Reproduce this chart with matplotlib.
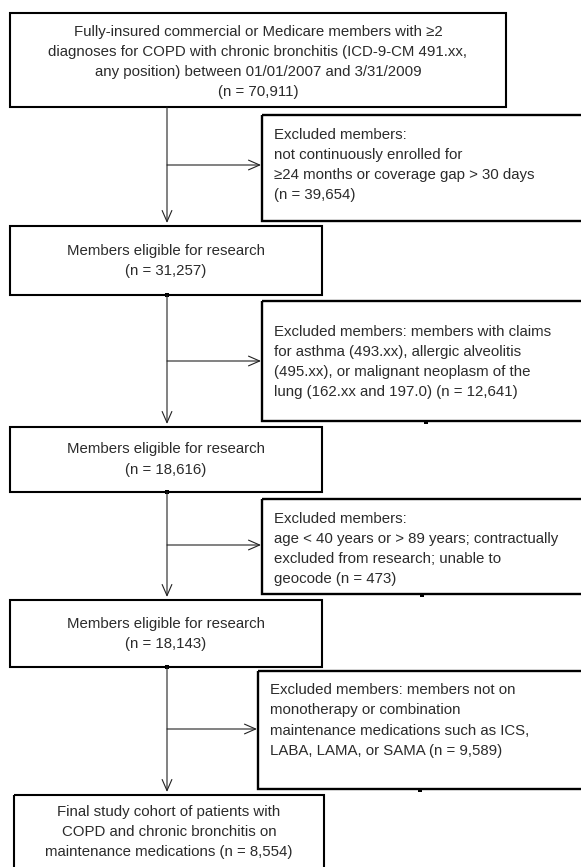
import matplotlib.pyplot as plt
from matplotlib.patches import Rectangle

plt.rcParams['font.family'] = ['Liberation Sans', 'DejaVu Sans']

# flowchart content
main_text = [
    "Fully-insured commercial or Medicare members with \u22652\n"
    "diagnoses for COPD with chronic bronchitis (ICD-9-CM 491.xx,\n"
    "any position) between 01/01/2007 and 3/31/2009",
    "Members eligible for research",
    "Members eligible for research",
    "Members eligible for research",
    "Final study cohort of patients with\n"
    "COPD and chronic bronchitis on\n"
    "maintenance medications",
]
main_n = [70911, 31257, 18616, 18143, 8554]

excl_text = [
    "Excluded members:\nnot continuously enrolled for\n"
    "\u226524 months or coverage gap > 30 days\n",
    "Excluded members: members with claims\nfor asthma (493.xx), allergic alveolitis\n"
    "(495.xx), or malignant neoplasm of the\nlung (162.xx and 197.0) ",
    "Excluded members:\nage < 40 years or > 89 years; contractually\n"
    "excluded from research; unable to\ngeocode ",
    "Excluded members: members not on\nmonotherapy or combination\n"
    "maintenance medications such as ICS,\nLABA, LAMA, or SAMA ",
]
excl_n = [39654, 12641, 473, 9589]

# layout in pixels (x0, y0, x1, y1), y downwards
main_boxes = [(10, 13, 506, 107), (10, 226, 322, 295), (10, 427, 322, 492),
              (10, 600, 322, 667), (14, 795, 324, 900)]
main_cy = [62, 261, 459.5, 634, 832]
excl_boxes = [(262, 115, 640, 221), (262, 301, 640, 421), (262, 499, 640, 594),
              (258, 671, 640, 789)]
excl_cy = [165, 362, 549, 720.5]
arrow_y = [165, 361, 545, 729]
stem_x = 167

fig = plt.figure(figsize=(5.81, 8.67), dpi=100)
ax = fig.add_axes([0, 0, 1, 1])
ax.set_xlim(0, 581)
ax.set_ylim(867, 0)
ax.axis('off')

txt_color = '#2b2b2b'
fs = 10.8
ls = 1.56


def box(b, lw):
    x0, y0, x1, y1 = b
    ax.add_patch(Rectangle((x0, y0), x1 - x0, y1 - y0, fill=False,
                           edgecolor='black', lw=lw))


for i, b in enumerate(main_boxes):
    box(b, 1.5)
    n_str = f"(n = {main_n[i]:,})"
    sep = " " if i == 4 else "\n"
    x0, y0, x1, y1 = b
    ax.text((x0 + x1) / 2, main_cy[i], main_text[i] + sep + n_str,
            ha='center', va='center', multialignment='center',
            fontsize=fs, color=txt_color, linespacing=ls)

for i, b in enumerate(excl_boxes):
    box(b, 1.7)
    ax.text(b[0] + 12, excl_cy[i], excl_text[i] + f"(n = {excl_n[i]:,})",
            ha='left', va='center', fontsize=fs, color=txt_color,
            linespacing=ls)

# connectors
arrow_kw = dict(arrowstyle='->,head_length=0.8,head_width=0.35',
                color='#222222', lw=0.8, mutation_scale=10,
                shrinkA=0, shrinkB=0)
for i in range(4):
    top = main_boxes[i][3]
    nxt = main_boxes[i + 1][1]
    ax.annotate('', xy=(stem_x, nxt - 3), xytext=(stem_x, top),
                arrowprops=arrow_kw)
    ax.annotate('', xy=(excl_boxes[i][0] - 1, arrow_y[i]),
                xytext=(stem_x, arrow_y[i]), arrowprops=arrow_kw)

# small stray marks left in the original drawing
ax.plot([stem_x] * 3, [b[3] for b in main_boxes[1:4]], 's', color='black',
        ms=2.2, mew=0)
ax.plot([426, 422, 420], [b[3] + 1 for b in excl_boxes[1:]], 's',
        color='black', ms=2.2, mew=0)

plt.savefig('out.png', dpi=100)
